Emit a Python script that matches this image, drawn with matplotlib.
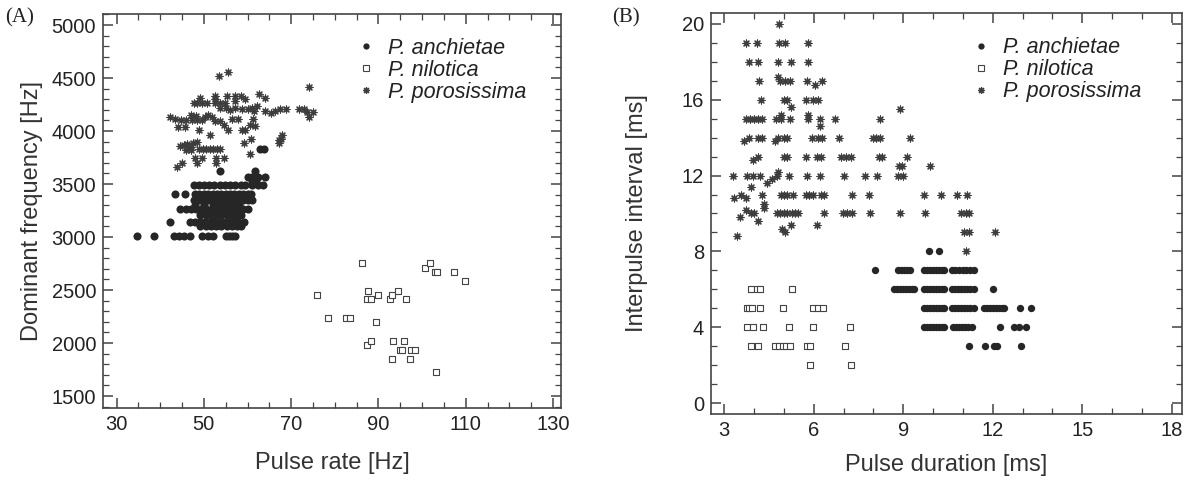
import numpy as np
import matplotlib.pyplot as plt
from matplotlib.lines import Line2D
from matplotlib.ticker import MultipleLocator

plt.rcParams['font.family'] = ['Liberation Sans', 'DejaVu Sans']

# ---------------- panel A : pulse rate vs dominant frequency ----------------
# P. anchietae, in rows of equal frequency
anch_a_freq_rows = [3830, 3620, 3570, 3530, 3490, 3410, 3350, 3300, 3260, 3210, 3145, 3100, 3010]
anch_a_rate_rows = [
    [62.8, 63.8],
    [53.8, 61.6],
    [60.0, 61.0, 62.5, 64.0],
    [61.0, 62.0],
    [47.7, 48.8, 50.0, 51.2, 52.4, 53.6, 54.8, 56.0, 57.2, 58.4, 59.5, 61.0, 62.5, 63.5],
    [43.4, 45.7, 48.0, 49.0, 50.0, 51.0, 52.0, 53.0, 54.0, 55.0, 56.0, 57.0, 58.0, 59.0, 60.0, 60.7],
    [47.7, 48.8, 50.0, 51.0, 52.0, 53.0, 54.0, 55.0, 56.0, 57.0, 58.0, 59.0, 60.0, 61.0],
    [48.0, 50.0, 52.0, 53.5, 55.0, 56.5, 58.0],
    [44.6, 45.8, 47.0, 48.2, 49.4, 50.6, 51.8, 53.0, 54.2, 55.4, 56.6, 57.8, 59.0, 60.0],
    [49.2, 50.4, 51.6, 52.8, 54.0, 55.2, 56.4, 57.6, 58.6],
    [42.3, 46.9, 48.0, 49.1, 50.2, 51.3, 52.4, 53.5, 54.6, 55.7, 56.8, 57.9, 59.1],
    [49.2, 50.4, 51.6, 52.8, 54.0, 55.2, 56.4, 57.6, 58.4],
    [34.6, 38.6, 43.1, 44.3, 45.5, 46.9, 49.6, 51.0, 52.2, 55.0, 55.8, 56.5, 57.2],
]

nilo_a_rate = [75.9, 78.5, 82.6, 83.5, 86.3, 87.5, 87.4, 88.3, 90.0, 89.4, 87.4, 88.3, 92.6, 93.1,
               94.4, 96.2, 93.4, 95.9, 94.9, 95.3, 97.5, 98.4, 93.2, 97.2, 103.2, 100.7, 101.8,
               103.0, 103.4, 107.2, 109.7]
nilo_a_freq = [2453, 2239, 2239, 2239, 2755, 2494, 2412, 2412, 2453, 2195, 1978, 2019, 2412, 2453,
               2494, 2412, 2019, 2019, 1934, 1934, 1934, 1934, 1849, 1849, 1724, 2710, 2755,
               2670, 2670, 2670, 2582]

poro_a_rate = [53.4, 55.6, 74.1,
               52.6, 52.6, 55.3, 57.2, 58.4, 62.6, 64.1, 59.5,
               49.2, 47.7, 48.4, 49.6, 50.7, 52.6, 53.8, 54.9, 57.2,
               53.8, 55.0, 56.0, 57.2, 58.8, 60.0, 61.0, 62.2, 61.5, 64.1, 65.3, 66.3, 67.5, 68.7,
               71.7, 72.9, 73.7, 74.9, 74.1,
               42.3, 43.5, 44.7, 46.0, 47.2, 48.4, 49.6, 50.3, 47.0, 48.2, 51.0, 51.8,
               44.1, 45.7, 48.8,
               52.6, 53.6, 54.6, 55.5, 56.5, 57.8, 58.8, 59.5, 60.5, 61.3, 61.8,
               51.5, 60.7, 59.2, 67.6, 67.2, 68.0,
               44.6, 45.4, 46.2, 47.0, 47.6, 48.4, 49.0, 49.8, 50.6, 51.4, 52.2, 53.0, 53.8,
               47.0, 45.8, 60.5, 67.1,
               43.8, 45.0, 48.0, 49.6, 48.4, 52.8, 54.6, 52.8]
poro_a_freq = [4519, 4560, 4418,
               4335, 4300, 4335, 4335, 4335, 4346, 4308, 4300,
               4308, 4261, 4261, 4261, 4261, 4261, 4261, 4261, 4280,
               4220, 4220, 4200, 4220, 4210, 4210, 4220, 4240, 4190, 4190, 4170, 4190, 4210, 4210,
               4210, 4210, 4180, 4180, 4130,
               4135, 4110, 4100, 4100, 4100, 4100, 4100, 4130, 4150, 4140, 4150, 4130,
               4040, 4040, 4010,
               4090, 4090, 4060, 4010, 4110, 4110, 4010, 4010, 4060, 4110, 4050,
               3962, 3925, 3890, 3925, 3890, 3962,
               3860, 3870, 3880, 3850, 3890, 3900, 3830, 3830, 3830, 3830, 3830, 3830, 3830,
               3820, 3820, 3783, 3915,
               3657, 3700, 3745, 3745, 3700, 3745, 3745, 3700]

# ---------------- panel B : pulse duration vs interpulse interval ----------------
anch_b_int_rows = [8, 7, 6, 5, 4, 3]
anch_b_dur_rows = [
    [9.86, 10.19],
    [8.07, 8.83, 8.93, 9.03, 9.13, 9.22, 9.69, 9.79, 9.89, 9.99, 10.09, 10.19, 10.29, 10.36,
     10.63, 10.75, 10.87, 11.0, 11.12, 11.24, 11.36],
    [8.68, 8.78, 8.88, 8.98, 9.08, 9.18, 9.28, 9.35, 9.69, 9.79, 9.89, 9.99, 10.09, 10.19, 10.29,
     10.36, 10.63, 10.73, 10.83, 10.93, 11.03, 11.13, 11.23, 11.36, 12.0],
    [9.69, 9.79, 9.89, 9.99, 10.09, 10.19, 10.29, 10.36, 10.63, 10.73, 10.83, 10.93, 11.03, 11.13,
     11.23, 11.36, 11.7, 11.8, 11.9, 12.0, 12.1, 12.2, 12.3, 12.37, 12.91, 13.27],
    [9.69, 9.79, 9.89, 9.99, 10.09, 10.19, 10.29, 10.36, 10.66, 10.76, 10.86, 10.96, 11.06, 11.16,
     11.3, 12.23, 12.7, 12.87, 13.13],
    [11.2, 11.73, 12.03, 12.14, 12.95],
]

nilo_b_int_rows = [6, 5, 4, 3, 2]
nilo_b_dur_rows = [
    [3.90, 4.10, 4.21, 5.27],
    [3.76, 3.84, 3.93, 4.21, 4.97, 5.99, 6.16, 6.31],
    [3.76, 3.96, 4.29, 5.18, 5.99, 7.22],
    [3.91, 4.15, 4.71, 4.85, 4.96, 5.08, 5.21, 5.78, 5.89, 7.04],
    [5.89, 7.26],
]

poro_b_int_rows = [20, 19, 18, 17, 16, 15, 14, 13, 12, 11, 10, 9, 8]
poro_b_dur_rows = [
    [4.85],
    [3.73, 4.10, 4.85, 5.05, 5.81],
    [3.84, 4.15, 4.79, 5.25, 5.81],
    [4.17, 4.87, 5.05, 5.21, 5.78, 6.28],
    [4.23, 4.99, 5.12, 5.74, 5.98, 6.14],
    [3.73, 3.87, 4.01, 4.15, 4.28, 4.75, 4.92, 5.19, 5.81, 6.22, 6.72, 8.23],
    [3.84, 4.15, 4.28, 4.82, 4.99, 5.10, 5.94, 6.14, 6.28, 6.84, 7.98, 8.10, 8.23, 9.24],
    [4.13, 4.99, 5.10, 5.75, 6.10, 6.25, 6.92, 7.08, 7.25, 8.20, 8.30, 9.13],
    [3.31, 3.76, 3.98, 4.21, 4.77, 5.16, 5.78, 6.22, 7.00, 7.73, 8.12, 8.83, 8.99],
    [3.55, 4.26, 4.90, 5.01, 5.12, 5.30, 5.74, 5.86, 5.98, 6.25, 6.34, 7.27, 7.85, 9.70,
     10.25, 10.81, 11.15],
    [3.90, 4.01, 4.77, 4.88, 4.99, 5.12, 5.26, 5.37, 5.48, 6.35, 6.99, 7.12, 7.27, 7.88, 8.88,
     9.74, 10.92, 11.09, 11.20],
    [11.03, 11.20, 12.06],
    [11.09],
]
# off-row asterisks
poro_b_dur_extra = [3.96, 4.82, 6.03, 5.25, 4.90, 5.81, 6.22, 3.67, 4.70, 4.45, 4.60, 4.82, 3.91,
                    4.34, 4.34, 3.34, 3.73, 3.53, 3.73, 4.13, 4.94, 5.05, 5.25, 6.10, 3.43, 8.88,
                    8.85, 8.96, 9.89]
poro_b_int_extra = [12.8, 17.2, 16.8, 15.6, 15.2, 15.2, 14.6, 13.8, 13.8, 11.6, 11.8, 12.2, 11.4,
                    10.3, 10.5, 10.8, 10.8, 9.8, 10.2, 9.6, 9.2, 9.0, 9.4, 9.4, 8.8, 15.5,
                    12.5, 12.5, 12.5]

species = ['P. anchietae', 'P. nilotica', 'P. porosissima']


def expand(ys, rows):
    xs, yy = [], []
    for y, row in zip(ys, rows):
        xs += row
        yy += [y] * len(row)
    return np.array(xs), np.array(yy)


ink = '#262626'
star_col = '#3d3d3d'
star = (8, 2, 0)

fig = plt.figure(figsize=(11.92, 4.82), dpi=100)
W, H = 1192, 482
axA = fig.add_axes([103 / W, (H - 408) / H, 458 / W, 394 / H])
axB = fig.add_axes([711 / W, (H - 414) / H, 471 / W, 401 / H])

# panel A
x, y = expand(anch_a_freq_rows, anch_a_rate_rows)
axA.scatter(x, y, s=34, color=ink, linewidths=0)
axA.scatter(nilo_a_rate, nilo_a_freq, s=14, marker='s', facecolors='white', edgecolors='#444444', linewidths=0.8)
axA.scatter(poro_a_rate, poro_a_freq, s=25, marker=star, color=star_col, linewidths=0.85)
axA.set_xlim(26.9, 131.8)
axA.set_ylim(1387, 5104)
axA.set_xticks([30, 50, 70, 90, 110, 130])
axA.set_yticks(np.arange(1500, 5001, 500))
axA.xaxis.set_minor_locator(MultipleLocator(5))
axA.yaxis.set_minor_locator(MultipleLocator(100))
axA.set_xlabel('Pulse rate [Hz]', fontsize=17, color='#333333', labelpad=13)
axA.set_ylabel('Dominant frequency [Hz]', fontsize=17, color='#333333', labelpad=6)

# panel B
x, y = expand(anch_b_int_rows, anch_b_dur_rows)
axB.scatter(x, y, s=28, color=ink, linewidths=0)
x, y = expand(nilo_b_int_rows, nilo_b_dur_rows)
axB.scatter(x, y, s=14, marker='s', facecolors='white', edgecolors='#444444', linewidths=0.8)
x, y = expand(poro_b_int_rows, poro_b_dur_rows)
axB.scatter(np.r_[x, poro_b_dur_extra], np.r_[y, poro_b_int_extra], s=25, marker=star,
            color=star_col, linewidths=0.85)
axB.set_xlim(2.56, 18.34)
axB.set_ylim(-0.58, 20.58)
axB.set_xticks(np.arange(3, 19, 3))
axB.set_yticks(np.arange(0, 21, 4))
axB.xaxis.set_minor_locator(MultipleLocator(1))
axB.yaxis.set_minor_locator(MultipleLocator(1))
axB.set_xlabel('Pulse duration [ms]', fontsize=17, color='#333333', labelpad=10)
axB.set_ylabel('Interpulse interval [ms]', fontsize=17, color='#333333', labelpad=24)

handles = [
    Line2D([], [], ls='none', marker='o', ms=4.5, color=ink, mew=0),
    Line2D([], [], ls='none', marker='s', ms=3.8, mfc='white', mec='#444444', mew=0.8),
    Line2D([], [], ls='none', marker=star, ms=5, color=star_col, mew=0.85),
]

for ax in (axA, axB):
    for sp in ax.spines.values():
        sp.set_linewidth(1.2)
        sp.set_color('#444444')
    ax.tick_params(which='both', direction='in', top=True, right=True, colors='#444444',
                   labelcolor='#222222', labelsize=14.5, pad=5)
    ax.tick_params(which='major', length=7, width=1.1)
    ax.tick_params(which='minor', length=4, width=0.9)
    leg = ax.legend(handles, species, loc='upper left', bbox_to_anchor=(0.55, 0.94),
                    frameon=False, fontsize=15.5, handlelength=1.0, handletextpad=0.55,
                    labelspacing=0.05, borderpad=0, borderaxespad=0)
    for t in leg.get_texts():
        t.set_fontstyle('italic')
        t.set_color('#222222')

fig.text(5 / W, 1 - 18 / H, '(A)', family='Liberation Serif', fontsize=15, va='center', color='#222222')
fig.text(612 / W, 1 - 18 / H, '(B)', family='Liberation Serif', fontsize=15, va='center', color='#222222')

fig.savefig('out.png', dpi=100)
